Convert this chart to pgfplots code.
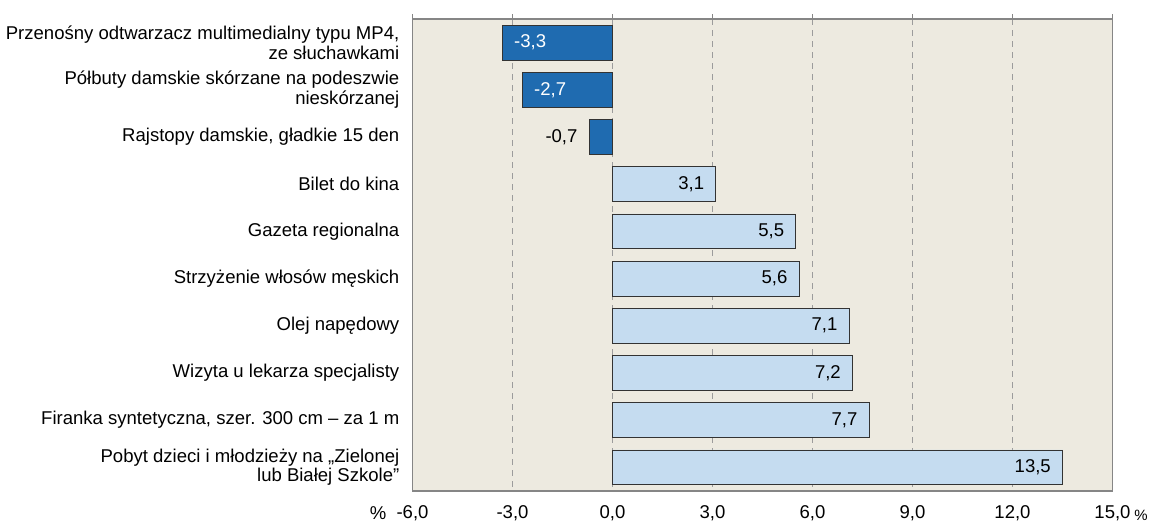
\documentclass[border=0pt]{standalone}
\usepackage{fontspec}
\setmainfont{Liberation Sans}
\usepackage{pgfplots}
\pgfplotsset{compat=1.18}
\definecolor{bgc}{HTML}{EDEAE0}
\definecolor{negc}{HTML}{1F6BB0}
\definecolor{posc}{HTML}{C5DCF0}
\definecolor{framec}{HTML}{868686}
\definecolor{gridc}{HTML}{9C9C9C}
\newcommand{\lf}{\fontsize{18.6}{19.5}\selectfont}
\begin{document}
\begin{tikzpicture}
\useasboundingbox (0,0) rectangle (1151bp,523bp);
\begin{axis}[
  at={(412.5bp,32bp)}, anchor=south west,
  scale only axis, width=700bp, height=472bp,
  xmin=-6, xmax=15, ymin=-0.5, ymax=9.5, y dir=reverse,
  axis background/.style={fill=bgc},
  axis line style={draw=framec, line width=1.6bp},
  xtick={-6,-3,...,15},
  xtick pos=upper, xticklabel pos=lower,
  tick align=outside, major tick length=5bp,
  x tick style={draw=framec, line width=1.2bp},
  xmajorgrids, grid style={gridc, line width=1bp, dash pattern=on 6bp off 5bp},
  ytick={0,...,9}, y tick style={draw=none},
  yticklabels={{Przenośny odtwarzacz multimedialny typu MP4,\\ze słuchawkami},
    {Półbuty damskie skórzane na podeszwie\\nieskórzanej},
    {Rajstopy damskie, gładkie 15 den},
    {Bilet do kina},
    {Gazeta regionalna},
    {Strzyżenie włosów męskich},
    {Olej napędowy},
    {Wizyta u lekarza specjalisty},
    {Firanka syntetyczna, szer. 300 cm – za 1 m},
    {Pobyt dzieci i młodzieży na „Zielonej\\lub Białej Szkole”}},
  yticklabel style={align=right, font=\lf, inner sep=0pt, xshift=-8bp},
  xticklabel style={font=\lf, inner sep=0pt, yshift=-9bp,
    /pgf/number format/.cd, fixed, fixed zerofill, precision=1, use comma, assume math mode=true},
  /pgf/number format/fixed,
  /pgf/number format/fixed zerofill,
  /pgf/number format/precision=1,
  /pgf/number format/use comma,
  /pgf/number format/assume math mode=true,
  clip=false,
]
\addplot[xbar, bar shift=0pt, bar width=0.74, fill=negc, draw=black!80, line width=0.8bp,
  point meta=x, nodes near coords,
  every node near coord/.append style={anchor=west, xshift=8bp, text=white, font=\lf}]
  coordinates {(-3.3,0) (-2.7,1)};
\addplot[xbar, bar shift=0pt, bar width=0.74, fill=negc, draw=black!80, line width=0.8bp,
  point meta=x, nodes near coords,
  every node near coord/.append style={anchor=east, xshift=-8bp, text=black, font=\lf}]
  coordinates {(-0.7,2)};
\addplot[xbar, bar shift=0pt, bar width=0.74, fill=posc, draw=black!80, line width=0.8bp,
  point meta=x, nodes near coords,
  every node near coord/.append style={anchor=east, xshift=-8bp, text=black, font=\lf}]
  coordinates {(3.1,3) (5.5,4) (5.6,5) (7.1,6) (7.2,7) (7.7,8) (13.5,9)};
\end{axis}
\node[font=\lf, inner sep=0pt] at (378bp,10bp) {\%};
\node[font=\fontsize{15}{16}\selectfont, inner sep=0pt] at (1141bp,8bp) {\%};
\end{tikzpicture}
\end{document}
